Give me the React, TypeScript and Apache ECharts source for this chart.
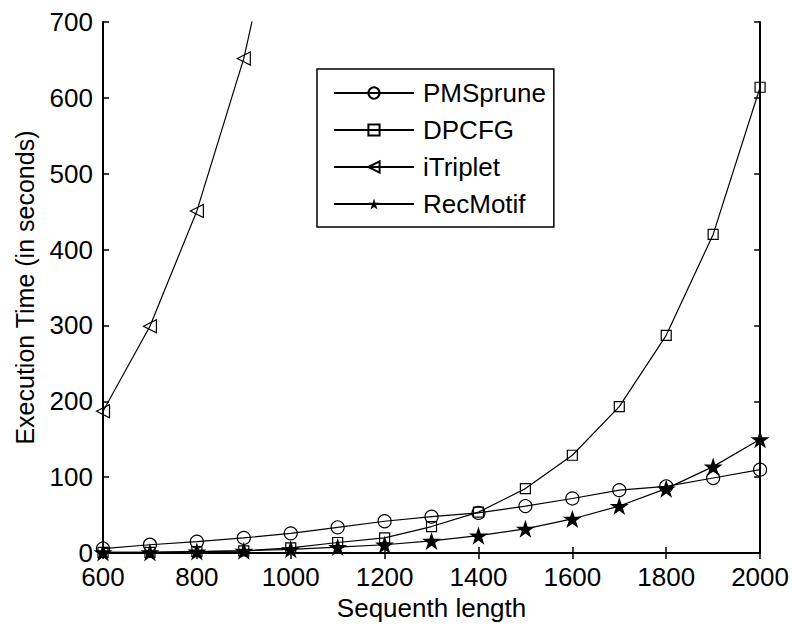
import React, { useEffect, useRef } from "react";
import * as echarts from "echarts";

const lengths = [600, 700, 800, 900, 1000, 1100, 1200, 1300, 1400, 1500, 1600, 1700, 1800, 1900, 2000];
const pmsprune = [6, 11, 15, 20, 26, 34, 42, 48, 53, 62, 72, 83, 88, 99, 110];
const dpcfg = [1, 1, 2, 3, 7, 14, 20, 35, 54, 85, 129, 193, 287, 420, 614];
const itripletLengths = [600, 700, 800, 900, 1000];
const itriplet = [187, 299, 451, 652, 930];
const recmotif = [1, 1, 2, 3, 5, 8, 11, 16, 23, 32, 45, 62, 85, 114, 150];
const seriesNames = ["PMSprune", "DPCFG", "iTriplet", "RecMotif"];

const STAR =
  "path://M50 0L61.23 34.55L97.55 34.55L68.17 55.9L79.39 90.45L50 69.1L20.61 90.45L31.83 55.9L2.45 34.55L38.77 34.55Z";

const FONT = "Liberation Sans, Arial, Helvetica, sans-serif";

function pairs(xs: number[], ys: number[]) {
  return ys.map((y, i) => [xs[i], y]);
}

export default function App() {
  const ref = useRef<HTMLDivElement>(null);
  useEffect(() => {
    if (!ref.current) return;
    const chart = echarts.init(ref.current, null, { renderer: "svg" });
    const axisLine = { show: true, lineStyle: { color: "#000", width: 2 } };
    const axisTick = { show: true, inside: true, length: 6, lineStyle: { color: "#000", width: 1.5 } };
    const lineBase = {
      type: "line" as const,
      lineStyle: { color: "#000", width: 1.2 },
      itemStyle: { color: "rgba(0,0,0,0)", borderColor: "#000", borderWidth: 1.2 },
      emphasis: { disabled: true },
      clip: true,
      showAllSymbol: true,
    };
    chart.setOption({
      animation: false,
      backgroundColor: "#fff",
      textStyle: { fontFamily: FONT },
      grid: { left: 103, right: 31, top: 22, bottom: 69, containLabel: false },
      legend: {
        orient: "vertical",
        left: 317,
        top: 69,
        padding: [11, 8, 10, 16],
        itemGap: 11,
        itemWidth: 80,
        itemHeight: 14,
        borderColor: "#000",
        borderWidth: 1.5,
        backgroundColor: "#fff",
        textStyle: { fontSize: 26, color: "#000", fontFamily: FONT, padding: [0, 0, 0, 4] },
        data: seriesNames,
      },
      xAxis: [
        {
          type: "value",
          min: 600,
          max: 2000,
          interval: 200,
          name: "Sequenth length",
          nameLocation: "middle",
          nameGap: 38,
          nameTextStyle: { fontSize: 26, color: "#000", fontFamily: FONT },
          axisLine,
          axisTick,
          axisLabel: {
            fontSize: 26,
            color: "#000",
            margin: 11,
            fontFamily: FONT,
            formatter: (v: number) => String(v),
          },
          splitLine: { show: false },
        },
        {
          type: "value",
          position: "top",
          min: 600,
          max: 2000,
          interval: 200,
          axisLine,
          axisTick,
          axisLabel: { show: false },
          splitLine: { show: false },
        },
      ],
      yAxis: [
        {
          type: "value",
          min: 0,
          max: 700,
          interval: 100,
          name: "Execution Time (in seconds)",
          nameLocation: "middle",
          nameGap: 66,
          nameTextStyle: { fontSize: 25, color: "#000", fontFamily: FONT },
          axisLine,
          axisTick,
          axisLabel: {
            fontSize: 26,
            color: "#000",
            margin: 10,
            fontFamily: FONT,
            formatter: (v: number) => String(v),
          },
          splitLine: { show: false },
        },
        {
          type: "value",
          position: "right",
          min: 0,
          max: 700,
          interval: 100,
          axisLine,
          axisTick,
          axisLabel: { show: false },
          splitLine: { show: false },
        },
      ],
      series: [
        {
          ...lineBase,
          name: "PMSprune",
          symbol: "circle",
          symbolSize: 13,
          data: pairs(lengths, pmsprune),
        },
        {
          ...lineBase,
          name: "DPCFG",
          symbol: "rect",
          symbolSize: 10,
          data: pairs(lengths, dpcfg),
        },
        {
          ...lineBase,
          name: "iTriplet",
          symbol: "triangle",
          symbolRotate: 90,
          symbolSize: 13,
          data: pairs(itripletLengths, itriplet),
        },
        {
          ...lineBase,
          name: "RecMotif",
          symbol: STAR,
          symbolKeepAspect: true,
          symbolSize: 19,
          itemStyle: { color: "#000", borderColor: "#000", borderWidth: 0 },
          data: pairs(lengths, recmotif),
        },
      ],
    });
    return () => chart.dispose();
  }, []);
  return (
    <div
      ref={ref}
      style={{ position: "fixed", left: 0, top: 0, width: 792, height: 626, background: "#fff" }}
    />
  );
}
